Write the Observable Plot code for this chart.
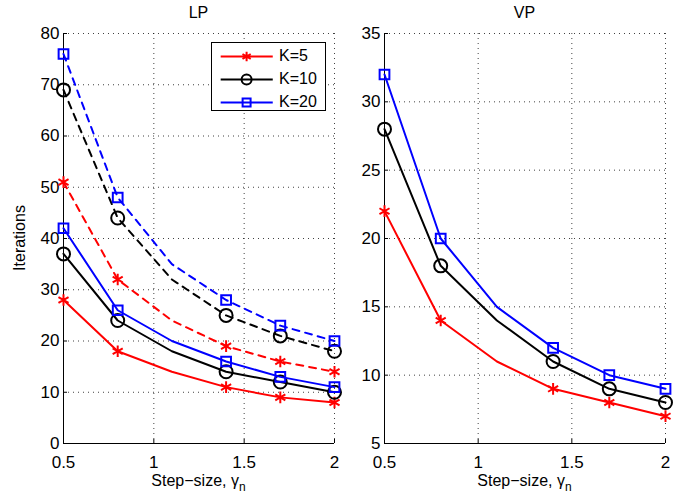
<!DOCTYPE html>
<html>
<head>
<meta charset="utf-8">
<script src="https://cdn.jsdelivr.net/npm/d3@7"></script>
<script src="https://cdn.jsdelivr.net/npm/@observablehq/plot@0.6"></script>
<style>
  html, body { margin: 0; padding: 0; background: #fff; }
  #root { position: relative; width: 689px; height: 497px; font-family: "Liberation Sans", Arial, Helvetica, sans-serif; color: #000; overflow: hidden; }
  .panel { position: absolute; top: 0; }
  .title { position: absolute; font-size: 16px; line-height: 16px; transform: translateX(-50%); white-space: nowrap; }
  .xlabel { position: absolute; font-size: 16px; line-height: 16px; transform: translateX(-50%); white-space: nowrap; }
  .xlabel sub { font-size: 12px; vertical-align: -5px; line-height: 0; }
  .ylabel { position: absolute; font-size: 16px; line-height: 16px; transform: translate(-50%, -50%) rotate(-90deg); white-space: nowrap; }
  .legend { position: absolute; left: 211px; top: 42px; width: 115px; height: 69px; border: 1px solid #000; background: #fff; box-sizing: border-box; padding-top: 1px; }
  .legrow { display: flex; align-items: center; height: 23px; }
  .legrow svg { display: block; }
  .legrow span { font-size: 16px; margin-left: 5px; }
</style>
</head>
<body>
<div id="root"></div>
<script>
// ---- data ----
const steps = [0.5, 0.8, 1.1, 1.4, 1.7, 2.0];
const markerSteps = [0.5, 0.8, 1.4, 1.7, 2.0];
const seriesNames = ["K=5", "K=10", "K=20"];
const seriesColors = ["#ff0000", "#000000", "#0000ff"];
const seriesSymbols = ["asterisk", "circle", "square"];

// LP panel: solid and dashed curves
const lpSolidK5  = [28, 18, 14, 11, 9, 8];
const lpSolidK10 = [37, 24, 18, 14, 12, 10];
const lpSolidK20 = [42, 26, 20, 16, 13, 11];
const lpDashK5   = [51, 32, 24, 19, 16, 14];
const lpDashK10  = [69, 44, 32, 25, 21, 18];
const lpDashK20  = [76, 48, 35, 28, 23, 20];

// VP panel
const vpK5  = [22, 14, 11, 9, 8, 7];
const vpK10 = [28, 18, 14, 11, 9, 8];
const vpK20 = [32, 20, 15, 12, 10, 9];

const xTicks = [0.5, 1, 1.5, 2];
const lpYTicks = [0, 10, 20, 30, 40, 50, 60, 70, 80];
const vpYTicks = [5, 10, 15, 20, 25, 30, 35];
const lpTitle = "LP", vpTitle = "VP";
const yLabel = "Iterations";

// ---- build rows ----
function rows(values, series, dashed) {
  return steps.map((x, i) => ({x, y: values[i], series, dashed, marker: markerSteps.includes(x)}));
}
const lpData = [
  ...rows(lpDashK5, "K=5", true), ...rows(lpDashK10, "K=10", true), ...rows(lpDashK20, "K=20", true),
  ...rows(lpSolidK5, "K=5", false), ...rows(lpSolidK10, "K=10", false), ...rows(lpSolidK20, "K=20", false)
];
const vpData = [...rows(vpK5, "K=5", false), ...rows(vpK10, "K=10", false), ...rows(vpK20, "K=20", false)];

const FONT = '"Liberation Sans", Arial, Helvetica, sans-serif';

function seriesMarks(data) {
  const marks = [];
  seriesNames.forEach((name, si) => {
    for (const dashed of [true, false]) {
      const d = data.filter(r => r.series === name && r.dashed === dashed);
      if (!d.length) continue;
      marks.push(Plot.line(d, {x: "x", y: "y", stroke: seriesColors[si], strokeWidth: 2,
        strokeDasharray: dashed ? "7,6" : null}));
      marks.push(Plot.dot(d.filter(r => r.marker), {x: "x", y: "y", symbol: seriesSymbols[si],
        r: si === 0 ? 5.5 : (si === 1 ? 6.5 : 5.5), stroke: seriesColors[si], strokeWidth: 2, fill: "none"}));
    }
  });
  return marks;
}

function panel(data, yDomain, yTicks, width, mLeft, mRight) {
  return Plot.plot({
    width, height: 497,
    marginLeft: mLeft, marginRight: mRight, marginTop: 33, marginBottom: 54,
    x: {domain: [0.5, 2]},
    y: {domain: yDomain},
    style: {fontFamily: FONT, fontSize: "17px", color: "#000", background: "transparent", overflow: "visible"},
    marks: [
      Plot.gridX(xTicks, {stroke: "#000", strokeOpacity: 0.75, strokeDasharray: "1,4", strokeWidth: 1}),
      Plot.gridY(yTicks, {stroke: "#000", strokeOpacity: 0.75, strokeDasharray: "1,4", strokeWidth: 1}),
      Plot.axisX(xTicks, {tickSize: 0, tickPadding: 12, label: null, fontSize: 17, tickFormat: d => String(d)}),
      Plot.axisY(yTicks, {tickSize: 0, tickPadding: 4, label: null, fontSize: 17, tickFormat: d => String(d)}),
      Plot.axisX(xTicks, {tickSize: -4, text: null, label: null, stroke: "#000"}),
      Plot.axisY(yTicks, {tickSize: -4, text: null, label: null, stroke: "#000"}),
      Plot.ruleX([0.5], {stroke: "#000", strokeWidth: 1}),
      Plot.ruleY([yDomain[0]], {stroke: "#000", strokeWidth: 1}),
      ...seriesMarks(data)
    ]
  });
}

const root = document.getElementById("root");

const lp = panel(lpData, [0, 80], lpYTicks, 345, 63, 11);
lp.classList.add("panel"); lp.style.left = "0px";
root.appendChild(lp);

const vp = panel(vpData, [5, 35], vpYTicks, 344, 39, 24);
vp.classList.add("panel"); vp.style.left = "345px";
root.appendChild(vp);

// titles and labels
function addDiv(cls, html, left, top) {
  const d = document.createElement("div");
  d.className = cls; d.innerHTML = html;
  d.style.left = left + "px"; d.style.top = top + "px";
  root.appendChild(d);
  return d;
}
addDiv("title", lpTitle, 198.5, 5);
addDiv("title", vpTitle, 524.5, 5);
addDiv("xlabel", "Step&minus;size, &gamma;<sub>n</sub>", 198.5, 473);
addDiv("xlabel", "Step&minus;size, &gamma;<sub>n</sub>", 524.5, 473);
addDiv("ylabel", yLabel, 20, 238);

// legend
const legend = document.createElement("div");
legend.className = "legend";
seriesNames.forEach((name, si) => {
  const row = document.createElement("div");
  row.className = "legrow";
  const sw = Plot.plot({
    width: 62, height: 22, margin: 0, axis: null,
    x: {domain: [0, 1]}, y: {domain: [0, 1]},
    style: {background: "transparent", overflow: "visible"},
    marks: [
      Plot.ruleY([0.5], {x1: 0.14, x2: 0.98, stroke: seriesColors[si], strokeWidth: 2}),
      Plot.dot([{x: 0.55, y: 0.5}], {x: "x", y: "y", symbol: seriesSymbols[si], r: si === 1 ? 5 : 4.5,
        stroke: seriesColors[si], strokeWidth: 2, fill: "none"})
    ]
  });
  row.appendChild(sw);
  const t = document.createElement("span");
  t.textContent = name;
  row.appendChild(t);
  legend.appendChild(row);
});
root.appendChild(legend);
</script>
</body>
</html>
